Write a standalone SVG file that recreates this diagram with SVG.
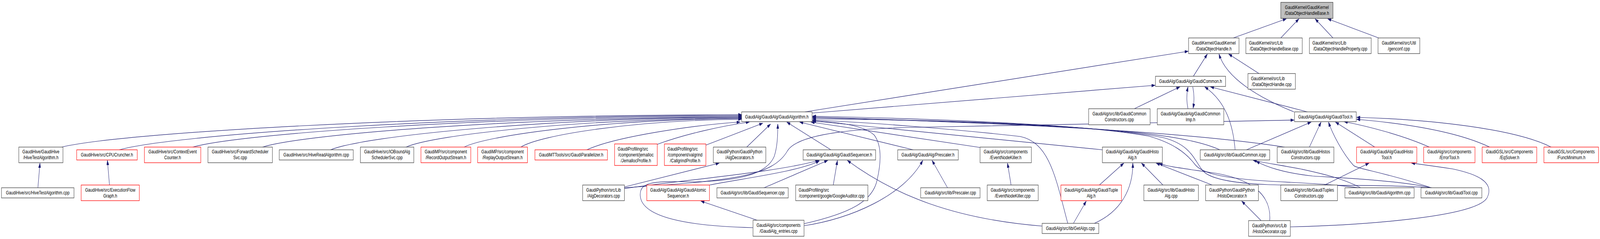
<svg xmlns="http://www.w3.org/2000/svg" width="5363" height="611" viewBox="0 0 5363 611">
<style>
.node rect{fill:#fff;stroke:#404040;stroke-width:1.3}
.node.red rect{stroke:#ff0000;stroke-width:1.3}
.node.root rect{fill:#bfbfbf}
.node text{font-family:"Liberation Sans",Arial,Helvetica,sans-serif;font-size:12.9px;fill:#000}
.c{text-anchor:middle}
.l{text-anchor:start}
#edges path{fill:none;stroke:#191970;stroke-width:1.2;marker-end:url(#ah)}
</style>
<defs>
<marker id="ah" viewBox="0 0 12 8" refX="12" refY="4" markerWidth="12" markerHeight="8" markerUnits="userSpaceOnUse" orient="auto">
<path d="M0,0 L12,4 L0,8 z" fill="#191970" stroke="#191970" stroke-width="0.5"/>
</marker>
</defs>
<rect width="5363" height="611" fill="#fff"/>
<g id="diagram" transform="scale(0.76375 1)">
<g id="edges">
<path d="M4134,97 L4312,48"/>
<path d="M4293,97 L4354,48"/>
<path d="M4468,97 L4408,48"/>
<path d="M4621,97 L4450,48"/>
<path d="M2698,286 L3983,131"/>
<path d="M2722,289 L3872,218"/>
<path d="M4000,195 L4047,138"/>
<path d="M3802,278 L3955,222"/>
<path d="M3982,278 C3977,260 3977,240 3982,222"/>
<path d="M3998,222 C4003,240 4003,260 3999,277"/>
<path d="M4140,383 C4133,320 4110,260 4038,222"/>
<path d="M4382,286 L4057,222"/>
<path d="M4337,286 C4220,250 4110,200 4086,138"/>
<path d="M4220,188 L4118,138"/>
<path d="M207,376 C400,340 1392,295 2486,293"/>
<path d="M400,383 C577,345 1485,297 2486,295"/>
<path d="M646,376 C802,342 1603,299 2486,297"/>
<path d="M880,376 C1016,343 1715,301 2486,299"/>
<path d="M1108,383 C1225,347 1825,302 2486,300"/>
<path d="M1361,376 C1457,344 1946,304 2486,302"/>
<path d="M1556,376 C1635,345 2040,305 2486,303"/>
<path d="M1746,376 C1809,345 2131,307 2486,305"/>
<path d="M1967,383 C2060,350 2320,320 2481,312"/>
<path d="M2203,369 C2300,342 2420,322 2512,312"/>
<path d="M2366,371 L2557,315"/>
<path d="M2503,376 L2583,317"/>
<path d="M2524,582 C2300,578 2150,555 2146,500 C2143,462 2200,463 2330,465 C2480,462 2570,445 2595,400 C2606,375 2607,345 2607,317"/>
<path d="M2785,383 L2637,312"/>
<path d="M3061,383 L2680,312"/>
<path d="M3285,377 L2718,312"/>
<path d="M3695,383 L2723,309"/>
<path d="M3579,571 C3540,460 3520,365 3420,349 C3200,330 2900,312 2723,307"/>
<path d="M4089,383 C3950,335 3600,318 2723,301"/>
<path d="M4306,376 C4000,340 3500,318 2723,299"/>
<path d="M4563,481 C4450,468 4280,466 4197,460 C4080,452 4025,440 4005,420 C3975,390 3930,365 3850,348 C3650,320 3200,305 2723,297"/>
<path d="M4802,481 C4650,470 4400,476 4250,472 C4120,468 4050,455 4030,435 C4000,405 3990,370 3900,352 C3700,322 3250,307 2723,304"/>
<path d="M4563,481 C4500,455 4420,442 4360,432 C4290,422 4230,415 4200,410"/>
<path d="M4802,481 C4700,462 4500,455 4400,450 C4300,442 4240,425 4210,412"/>
<path d="M4802,481 C4640,440 4550,432 4537,423 C4500,392 4465,340 4453,312"/>
<path d="M4178,383 L4395,312"/>
<path d="M4389,376 L4428,312"/>
<path d="M4608,376 L4476,312"/>
<path d="M4791,376 C4700,345 4580,322 4505,311"/>
<path d="M4993,376 C4880,335 4700,315 4547,305"/>
<path d="M5199,376 C5080,330 4800,305 4547,300"/>
<path d="M2093,480 C2450,462 2590,452 2640,385 C2680,338 2900,327 3100,325 L4338,307"/>
<path d="M4440,473 L4589,417"/>
<path d="M4325,580 C4550,576 4950,556 4985,505 C5010,465 4950,445 4870,432 C4800,424 4760,420 4731,417"/>
<path d="M3685,473 L3767,417"/>
<path d="M3898,473 L3826,417"/>
<path d="M4063,473 L3875,417"/>
<path d="M3668,571 C3760,540 3798,480 3797,417"/>
<path d="M4256,564 C4262,500 4200,455 4050,440 C3960,430 3905,425 3885,417"/>
<path d="M3598,571 L3641,514"/>
<path d="M3493,578 C3200,560 3000,500 2840,410"/>
<path d="M4227,564 L4162,514"/>
<path d="M127,480 L134,417"/>
<path d="M367,473 L360,410"/>
<path d="M2093,478 L2411,417"/>
<path d="M2093,482 C2350,455 2600,440 2745,410"/>
<path d="M2378,473 C2500,455 2680,438 2747,411"/>
<path d="M2558,481 L2775,410"/>
<path d="M2793,473 L2807,410"/>
<path d="M3176,480 L3124,410"/>
<path d="M2695,577 C2850,560 3030,500 3093,410"/>
<path d="M2538,563 L2349,514"/>
<path d="M2695,572 C2850,545 2925,515 2940,460 C2955,410 2955,370 2930,345 C2890,318 2800,312 2723,309"/>
<path d="M3389,473 L3377,417"/>
</g>
<g id="nodes">
<g id="n0" class="node root"><rect x="4293" y="6" width="175" height="41"/><text class="c" x="4380.5" y="23.5">GaudiKernel/GaudiKernel</text><text class="c" x="4380.5" y="38.5">/DataObjectHandleBase.h</text></g>
<g id="n1" class="node"><rect x="3984" y="97" width="169" height="40"/><text class="c" x="4068.5" y="114">GaudiKernel/GaudiKernel</text><text class="c" x="4068.5" y="129">/DataObjectHandle.h</text></g>
<g id="n2" class="node"><rect x="4176" y="97" width="189" height="40"/><text class="l" x="4186.5" y="114">GaudiKernel/src/Lib</text><text class="c" x="4270.5" y="129">/DataObjectHandleBase.cpp</text></g>
<g id="n3" class="node"><rect x="4389" y="97" width="207" height="40"/><text class="l" x="4399" y="114">GaudiKernel/src/Lib</text><text class="c" x="4492.5" y="129">/DataObjectHandleProperty.cpp</text></g>
<g id="n4" class="node"><rect x="4619" y="97" width="140" height="40"/><text class="c" x="4689" y="114">GaudiKernel/src/Util</text><text class="c" x="4689" y="129">/genconf.cpp</text></g>
<g id="n5" class="node"><rect x="3873" y="195" width="235" height="26"/><text class="c" x="3990.5" y="212.5">GaudiAlg/GaudiAlg/GaudiCommon.h</text></g>
<g id="n6" class="node"><rect x="4183" y="188" width="159" height="40"/><text class="l" x="4193" y="205">GaudiKernel/src/Lib</text><text class="c" x="4262.5" y="220">/DataObjectHandle.cpp</text></g>
<g id="n7" class="node"><rect x="2486" y="286" width="236" height="25"/><text class="c" x="2604" y="303">GaudiAlg/GaudiAlg/GaudiAlgorithm.h</text></g>
<g id="n8" class="node"><rect x="3649" y="278" width="206" height="41"/><text class="c" x="3752" y="295.5">GaudiAlg/src/lib/GaudiCommon</text><text class="c" x="3752" y="310.5">Constructors.cpp</text></g>
<g id="n9" class="node"><rect x="3879" y="278" width="223" height="41"/><text class="c" x="3990.5" y="295.5">GaudiAlg/GaudiAlg/GaudiCommon</text><text class="c" x="3990.5" y="310.5">Imp.h</text></g>
<g id="n10" class="node"><rect x="4339" y="286" width="207" height="25"/><text class="c" x="4442.5" y="303">GaudiAlg/GaudiAlg/GaudiTool.h</text></g>
<g id="n11" class="node"><rect x="63" y="376" width="148" height="40"/><text class="c" x="137" y="392.5">GaudiHive/GaudiHive</text><text class="c" x="137" y="407.5">/HiveTestAlgorithm.h</text></g>
<g id="n12" class="node red"><rect x="257" y="383" width="203" height="26"/><text class="c" x="358.5" y="400.5">GaudiHive/src/CPUCruncher.h</text></g>
<g id="n13" class="node red"><rect x="484" y="376" width="189" height="40"/><text class="c" x="578.5" y="392.5">GaudiHive/src/ContextEvent</text><text class="c" x="578.5" y="407.5">Counter.h</text></g>
<g id="n14" class="node"><rect x="697" y="376" width="216" height="40"/><text class="c" x="805" y="392.5">GaudiHive/src/ForwardScheduler</text><text class="c" x="805" y="407.5">Svc.cpp</text></g>
<g id="n15" class="node"><rect x="936" y="383" width="248" height="26"/><text class="c" x="1060" y="400.5">GaudiHive/src/HiveReadAlgorithm.cpp</text></g>
<g id="n16" class="node"><rect x="1208" y="376" width="179" height="40"/><text class="c" x="1297.5" y="392.5">GaudiHive/src/IOBoundAlg</text><text class="c" x="1297.5" y="407.5">SchedulerSvc.cpp</text></g>
<g id="n17" class="node red"><rect x="1411" y="376" width="167" height="40"/><text class="c" x="1494.5" y="392.5">GaudiMP/src/component</text><text class="c" x="1494.5" y="407.5">/RecordOutputStream.h</text></g>
<g id="n18" class="node red"><rect x="1601" y="376" width="167" height="40"/><text class="c" x="1684.5" y="392.5">GaudiMP/src/component</text><text class="c" x="1684.5" y="407.5">/ReplayOutputStream.h</text></g>
<g id="n19" class="node red"><rect x="1793" y="383" width="243" height="26"/><text class="c" x="1914.5" y="400.5">GaudiMTTools/src/GaudiParallelizer.h</text></g>
<g id="n20" class="node red"><rect x="2060" y="368" width="143" height="55"/><text class="l" x="2070.5" y="385">GaudiProfiling/src</text><text class="c" x="2131.5" y="400">/component/jemalloc</text><text class="c" x="2131.5" y="415">/JemallocProfile.h</text></g>
<g id="n21" class="node red"><rect x="2227" y="368" width="139" height="55"/><text class="l" x="2237" y="385">GaudiProfiling/src</text><text class="c" x="2296.5" y="400">/component/valgrind</text><text class="c" x="2296.5" y="415">/CallgrindProfile.h</text></g>
<g id="n22" class="node"><rect x="2391" y="376" width="176" height="40"/><text class="c" x="2479" y="392.5">GaudiPython/GaudiPython</text><text class="c" x="2479" y="407.5">/AlgDecorators.h</text></g>
<g id="n23" class="node"><rect x="2692" y="383" width="243" height="26"/><text class="c" x="2813.5" y="400.5">GaudiAlg/GaudiAlg/GaudiSequencer.h</text></g>
<g id="n24" class="node"><rect x="3009" y="383" width="203" height="26"/><text class="c" x="3110.5" y="400.5">GaudiAlg/GaudiAlg/Prescaler.h</text></g>
<g id="n25" class="node"><rect x="3285" y="376" width="172" height="40"/><text class="c" x="3371" y="392.5">GaudiAlg/src/components</text><text class="c" x="3371" y="407.5">/EventNodeKiller.h</text></g>
<g id="n26" class="node"><rect x="3695" y="376" width="201" height="40"/><text class="c" x="3795.5" y="392.5">GaudiAlg/GaudiAlg/GaudiHisto</text><text class="c" x="3795.5" y="407.5">Alg.h</text></g>
<g id="n27" class="node"><rect x="4023" y="383" width="233" height="26"/><text class="c" x="4139.5" y="400.5">GaudiAlg/src/lib/GaudiCommon.icpp</text></g>
<g id="n28" class="node"><rect x="4281" y="376" width="190" height="40"/><text class="c" x="4376" y="392.5">GaudiAlg/src/lib/GaudiHistos</text><text class="c" x="4376" y="407.5">Constructors.cpp</text></g>
<g id="n29" class="node red"><rect x="4547" y="376" width="202" height="40"/><text class="c" x="4648" y="392.5">GaudiAlg/GaudiAlg/GaudiHisto</text><text class="c" x="4648" y="407.5">Tool.h</text></g>
<g id="n30" class="node red"><rect x="4772" y="376" width="172" height="40"/><text class="c" x="4858" y="392.5">GaudiAlg/src/components</text><text class="c" x="4858" y="407.5">/ErrorTool.h</text></g>
<g id="n31" class="node red"><rect x="4968" y="376" width="183" height="40"/><text class="c" x="5059.5" y="392.5">GaudiGSL/src/Components</text><text class="c" x="5059.5" y="407.5">/EqSolver.h</text></g>
<g id="n32" class="node red"><rect x="5175" y="376" width="183" height="40"/><text class="c" x="5266.5" y="392.5">GaudiGSL/src/Components</text><text class="c" x="5266.5" y="407.5">/FuncMinimum.h</text></g>
<g id="n33" class="node"><rect x="5" y="480" width="243" height="26"/><text class="c" x="126.5" y="497.5">GaudiHive/src/HiveTestAlgorithm.cpp</text></g>
<g id="n34" class="node red"><rect x="272" y="473" width="195" height="40"/><text class="c" x="369.5" y="490">GaudiHive/src/ExecutionFlow</text><text class="c" x="369.5" y="505">Graph.h</text></g>
<g id="n35" class="node"><rect x="1953" y="473" width="140" height="40"/><text class="c" x="2023" y="490">GaudiPython/src/Lib</text><text class="c" x="2023" y="505">/AlgDecorators.cpp</text></g>
<g id="n36" class="node red"><rect x="2168" y="473" width="210" height="40"/><text class="c" x="2273" y="490">GaudiAlg/GaudiAlg/GaudiAtomic</text><text class="c" x="2273" y="505">Sequencer.h</text></g>
<g id="n37" class="node"><rect x="2403" y="480" width="239" height="26"/><text class="c" x="2522.5" y="497.5">GaudiAlg/src/lib/GaudiSequencer.cpp</text></g>
<g id="n38" class="node"><rect x="2667" y="473" width="242" height="40"/><text class="l" x="2677" y="490">GaudiProfiling/src</text><text class="c" x="2788" y="505">/component/google/GoogleAuditor.cpp</text></g>
<g id="n39" class="node"><rect x="3086" y="480" width="199" height="26"/><text class="c" x="3185.5" y="497.5">GaudiAlg/src/lib/Prescaler.cpp</text></g>
<g id="n40" class="node"><rect x="3309" y="473" width="171" height="40"/><text class="c" x="3394.5" y="490">GaudiAlg/src/components</text><text class="c" x="3394.5" y="505">/EventNodeKiller.cpp</text></g>
<g id="n41" class="node red"><rect x="3556" y="473" width="203" height="40"/><text class="c" x="3657.5" y="490">GaudiAlg/GaudiAlg/GaudiTuple</text><text class="c" x="3657.5" y="505">Alg.h</text></g>
<g id="n42" class="node"><rect x="3834" y="473" width="183" height="40"/><text class="c" x="3925.5" y="490">GaudiAlg/src/lib/GaudiHisto</text><text class="c" x="3925.5" y="505">Alg.cpp</text></g>
<g id="n43" class="node"><rect x="4041" y="473" width="177" height="40"/><text class="c" x="4129.5" y="490">GaudiPython/GaudiPython</text><text class="c" x="4129.5" y="505">/HistoDecorator.h</text></g>
<g id="n44" class="node"><rect x="4293" y="473" width="190" height="40"/><text class="c" x="4388" y="490">GaudiAlg/src/lib/GaudiTuples</text><text class="c" x="4388" y="505">Constructors.cpp</text></g>
<g id="n45" class="node"><rect x="4508" y="480" width="232" height="26"/><text class="c" x="4624" y="497.5">GaudiAlg/src/lib/GaudiAlgorithm.cpp</text></g>
<g id="n46" class="node"><rect x="4763" y="480" width="204" height="26"/><text class="c" x="4865" y="497.5">GaudiAlg/src/lib/GaudiTool.cpp</text></g>
<g id="n47" class="node"><rect x="2524" y="563" width="171" height="41"/><text class="c" x="2609.5" y="580.5">GaudiAlg/src/components</text><text class="c" x="2609.5" y="595.5">/GaudiAlg_entries.cpp</text></g>
<g id="n48" class="node"><rect x="3493" y="571" width="190" height="26"/><text class="c" x="3588" y="588.5">GaudiAlg/src/lib/GetAlgs.cpp</text></g>
<g id="n49" class="node"><rect x="4185" y="564" width="140" height="40"/><text class="c" x="4255" y="581">GaudiPython/src/Lib</text><text class="c" x="4255" y="596">/HistoDecorator.cpp</text></g>
</g>
</g>
</svg>
